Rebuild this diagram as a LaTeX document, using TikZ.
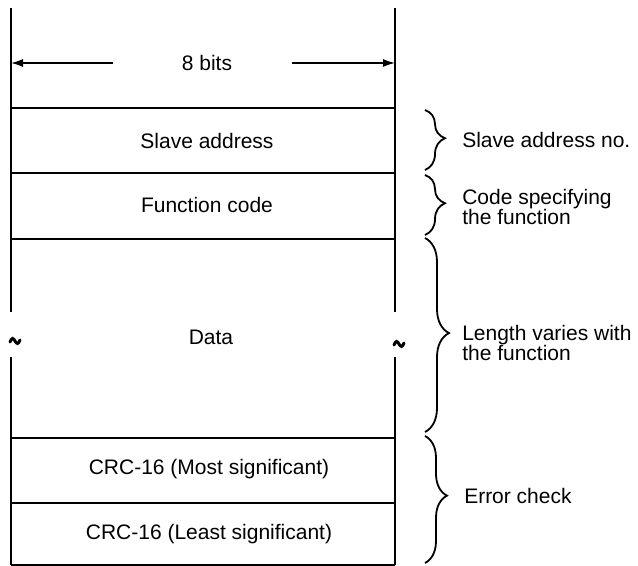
\documentclass[tikz,border=0pt]{standalone}
\usepackage{fontspec}
\setmainfont{Liberation Sans}
\usetikzlibrary{arrows.meta,decorations.pathreplacing}

\tikzset{every picture/.style={line width=0.75pt}}
\tikzset{
  lbl/.style={inner sep=0.75pt, font=\fontsize{10.5}{10}\selectfont},
  note/.style={anchor=west, inner sep=0.75pt, align=left, font=\fontsize{10.5}{10}\selectfont},
  curly/.style={decorate, decoration={brace, amplitude=#1, aspect=0.47}, line width=0.9pt},
  rule/.style={line width=1pt},
  tip/.style={-{Latex[length=6pt,width=4pt]}},
  breakmark/.style={line width=1.5pt, line cap=round},
}

\begin{document}
\begin{tikzpicture}[x=0.5pt,y=0.5pt,yscale=-1,xscale=1]
\useasboundingbox (0,0) rectangle (638,566);

%Straight Lines (sides, broken at the data field)
\draw    (11,8) -- (11,312) ;
\draw    (11,357) -- (11,565) ;
\draw    (395,8) -- (395,312) ;
\draw    (395,357) -- (395,565) ;
%Straight Lines (field borders)
\foreach \y in {108,173,239,438,503,565}
  \draw [rule]    (11,\y) -- (395,\y) ;

%break marks
\draw [breakmark]    (10,342) sin (12.5,338.5) cos (15,341) sin (17.5,343.5) cos (20,340) ;
\draw [breakmark]    (394,345) sin (396.5,341.5) cos (399,344) sin (401.5,346.5) cos (404,343) ;

% Text Node
\node (bits) at (207,63) [lbl] {8 bits};
\coordinate (lstart) at (113,63);
\coordinate (lend) at (11,63);
\coordinate (rstart) at (292,63);
\coordinate (rend) at (395,63);
\draw [tip]    (lstart) -- (lend) ;
\draw [tip]    (rstart) -- (rend) ;

% Text Node
\node (slave) at (207,141) [lbl] {Slave address};
% Text Node
\node (func) at (207,205) [lbl] {Function code};
% Text Node
\node (data) at (211,337) [lbl] {Data};
% Text Node
\node (crcm) at (209,469) [lbl] {CRC-16 (Most significant)};
% Text Node
\node (crcl) at (209,534) [lbl] {CRC-16 (Least significant)};

%Braces
\draw [curly=10pt]    (425,110) -- (425,170) ;
\draw [curly=10pt]    (425,175) -- (425,235) ;
\draw [curly=12pt, decoration={aspect=0.49}]    (425,238) -- (425,432) ;
\draw [curly=11pt]    (425,436) -- (425,563) ;

% Text Node
\node (noaddr) at (460,140) [note] {Slave address no.};
% Text Node
\node (nofunc) at (460,207) [note] {Code specifying\\the function};
% Text Node
\node (nolen) at (460,343) [note] {Length varies with\\the function};
% Text Node
\node (nocheck) at (462,496) [note] {Error check};
\end{tikzpicture}
\end{document}
